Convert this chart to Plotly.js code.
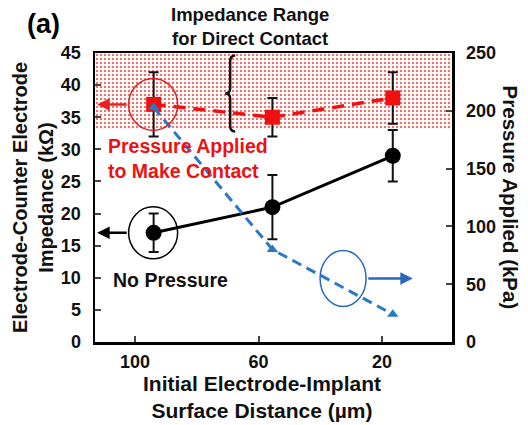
<!DOCTYPE html>
<html><head><meta charset="utf-8">
<script src="https://cdn.plot.ly/plotly-3.0.1.min.js"></script>
<style>html,body{margin:0;padding:0;background:#fff}#chart{width:528px;height:425px}</style>
</head><body><div id="chart"></div>
<script>
// Data
const distance = [94, 55.5, 16.5];            // initial electrode-implant distance (µm)
const impNoPressure = [17, 21, 29];            // kΩ
const impNoPressureErr = [3, 5, 4];
const impPressure = [37, 35, 38];              // kΩ
const impPressureErr = [5, 3, 4];
const pressureApplied = [203, 80, 24];         // kPa
const xTickVals = [100, 60, 20];
const yLeftTicks = [0, 5, 10, 15, 20, 25, 30, 35, 40, 45];
const yRightTicks = [0, 50, 100, 150, 200, 250];
const contactRange = [33, 45];                 // kΩ band for direct contact
const xRange = [113, -2.7];

const F = 'Liberation Sans, Arial, sans-serif';

const band = {
  x: [xRange[0], xRange[1], xRange[1], xRange[0], xRange[0]],
  y: [contactRange[0], contactRange[0], contactRange[1], contactRange[1], contactRange[0]],
  mode: 'lines', line: {width: 0}, fill: 'toself', fillcolor: 'rgba(0,0,0,0)',
  fillpattern: {shape: '.', fgcolor: '#e83a35', bgcolor: '#fffafa', size: 4, solidity: 0.18},
  hoverinfo: 'skip', showlegend: false
};
const blue = {
  x: distance, y: pressureApplied, yaxis: 'y2', mode: 'lines+markers',
  line: {color: '#2a78c8', width: 3, dash: '10px,6px'},
  marker: {symbol: 'triangle-up', size: 10, color: '#2a78c8'}, showlegend: false
};
const red = {
  x: distance, y: impPressure, mode: 'lines+markers',
  line: {color: '#f01010', width: 3.5, dash: '12px,8px'},
  marker: {symbol: 'square', size: 15, color: '#f01010'},
  error_y: {type: 'data', array: impPressureErr, color: '#111', thickness: 2, width: 5},
  showlegend: false
};
const black = {
  x: distance, y: impNoPressure, mode: 'lines+markers',
  line: {color: '#000', width: 3},
  marker: {symbol: 'circle', size: 16, color: '#000'},
  error_y: {type: 'data', array: impNoPressureErr, color: '#111', thickness: 2, width: 5},
  showlegend: false
};

const axisFont = {family: F, size: 18, color: '#111', weight: 'bold'};
const layout = {
  width: 528, height: 425,
  margin: {l: 95, r: 76, t: 53, b: 83},
  paper_bgcolor: '#fff', plot_bgcolor: '#fff',
  font: {family: F, color: '#111'},
  xaxis: {
    range: xRange, tickvals: xTickVals, ticks: 'inside', ticklen: 6, tickwidth: 2,
    showline: true, linewidth: 2.5, linecolor: '#000', mirror: true, showgrid: false, zeroline: false,
    tickfont: axisFont, ticklabelstandoff: 2
  },
  yaxis: {
    range: [0, 45], tickvals: yLeftTicks, ticks: 'inside', ticklen: 6, tickwidth: 2,
    showline: true, linewidth: 2.5, linecolor: '#000', showgrid: false, zeroline: false,
    tickfont: axisFont, ticklabelstandoff: 8,
    title: {text: 'Electrode-Counter Electrode<br>Impedance (kΩ)', font: {family: F, size: 20, weight: 'bold'}, standoff: 2}
  },
  yaxis2: {
    range: [0, 250], tickvals: yRightTicks, ticks: 'inside', ticklen: 6, tickwidth: 2,
    overlaying: 'y', side: 'right',
    showline: true, linewidth: 2.5, linecolor: '#000', showgrid: false, zeroline: false,
    tickfont: axisFont, ticklabelstandoff: 8
  },
  shapes: [
    {type: 'circle', xref: 'x', yref: 'y', xsizemode: 'pixel', ysizemode: 'pixel',
     xanchor: distance[0], yanchor: impPressure[0], x0: -25, x1: 24, y0: -26, y1: 26,
     line: {color: '#e02020', width: 1.5}},
    {type: 'circle', xref: 'x', yref: 'y', xsizemode: 'pixel', ysizemode: 'pixel',
     xanchor: distance[0], yanchor: impNoPressure[0], x0: -25, x1: 24, y0: -26, y1: 26,
     line: {color: '#000', width: 1.5}},
    {type: 'circle', xref: 'x', yref: 'y2', xsizemode: 'pixel', ysizemode: 'pixel',
     xanchor: 32.6, yanchor: 55, x0: -23, x1: 23, y0: -28, y1: 28,
     line: {color: '#2a68c0', width: 1.5}},
    // curly brace marking the direct-contact band
    {type: 'path', xref: 'x', yref: 'y', xsizemode: 'pixel', ysizemode: 'pixel',
     xanchor: 69.2, yanchor: 38.7,
     path: 'M 5 38 Q 0 38 0 32 L 0 5 Q 0 0 -5 0 Q 0 0 0 -5 L 0 -32 Q 0 -38 5 -38',
     line: {color: '#111', width: 2.5}}
  ],
  annotations: [
    {text: '(a)', xref: 'paper', yref: 'paper', x: -0.195, y: 1.1, xanchor: 'left', yanchor: 'middle',
     showarrow: false, font: {family: F, size: 27, weight: 'bold', color: '#000'}},
    {text: 'Impedance Range<br>for Direct Contact', xref: 'paper', yref: 'paper', x: 0.435, y: 1.006,
     xanchor: 'center', yanchor: 'bottom', showarrow: false,
     font: {family: F, size: 18.5, weight: 'bold', color: '#111'}},
    {text: 'Initial Electrode-Implant<br>Surface Distance (µm)', xref: 'paper', yref: 'paper', x: 0.468, y: -0.19,
     xanchor: 'center', yanchor: 'middle', showarrow: false,
     font: {family: F, size: 21, weight: 'bold', color: '#111'}},
    {text: 'Pressure Applied (kPa)', xref: 'paper', yref: 'paper', x: 1.165, y: 0.5, textangle: 90,
     xanchor: 'center', yanchor: 'middle', showarrow: false,
     font: {family: F, size: 20.5, weight: 'bold', color: '#111'}},
    {text: 'Pressure Applied<br>to Make Contact', xref: 'paper', yref: 'y', x: 0.03, y: 28.5,
     xanchor: 'left', yanchor: 'middle', align: 'left', showarrow: false,
     font: {family: F, size: 19.5, weight: 'bold', color: '#ee1111'}},
    {text: 'No Pressure', xref: 'paper', yref: 'y', x: 0.045, y: 9.6,
     xanchor: 'left', yanchor: 'middle', showarrow: false,
     font: {family: F, size: 19.5, weight: 'bold', color: '#111'}},
    // arrows pointing to the axis each series belongs to
    {x: 112.3, y: impPressure[0], xref: 'x', yref: 'y', ax: 31, ay: 0, text: '', showarrow: true,
     arrowhead: 2, arrowsize: 1, arrowwidth: 2.5, arrowcolor: '#e82020'},
    {x: 112.3, y: impNoPressure[0], xref: 'x', yref: 'y', ax: 31, ay: 0, text: '', showarrow: true,
     arrowhead: 2, arrowsize: 1, arrowwidth: 2.5, arrowcolor: '#000'},
    {x: 10, y: 55, xref: 'x', yref: 'y2', ax: -46, ay: 0, text: '', showarrow: true,
     arrowhead: 2, arrowsize: 1, arrowwidth: 2.5, arrowcolor: '#2a68c0'}
  ]
};

Plotly.newPlot('chart', [band, red, blue, black], layout, {staticPlot: true, displayModeBar: false});
</script>
</body></html>
